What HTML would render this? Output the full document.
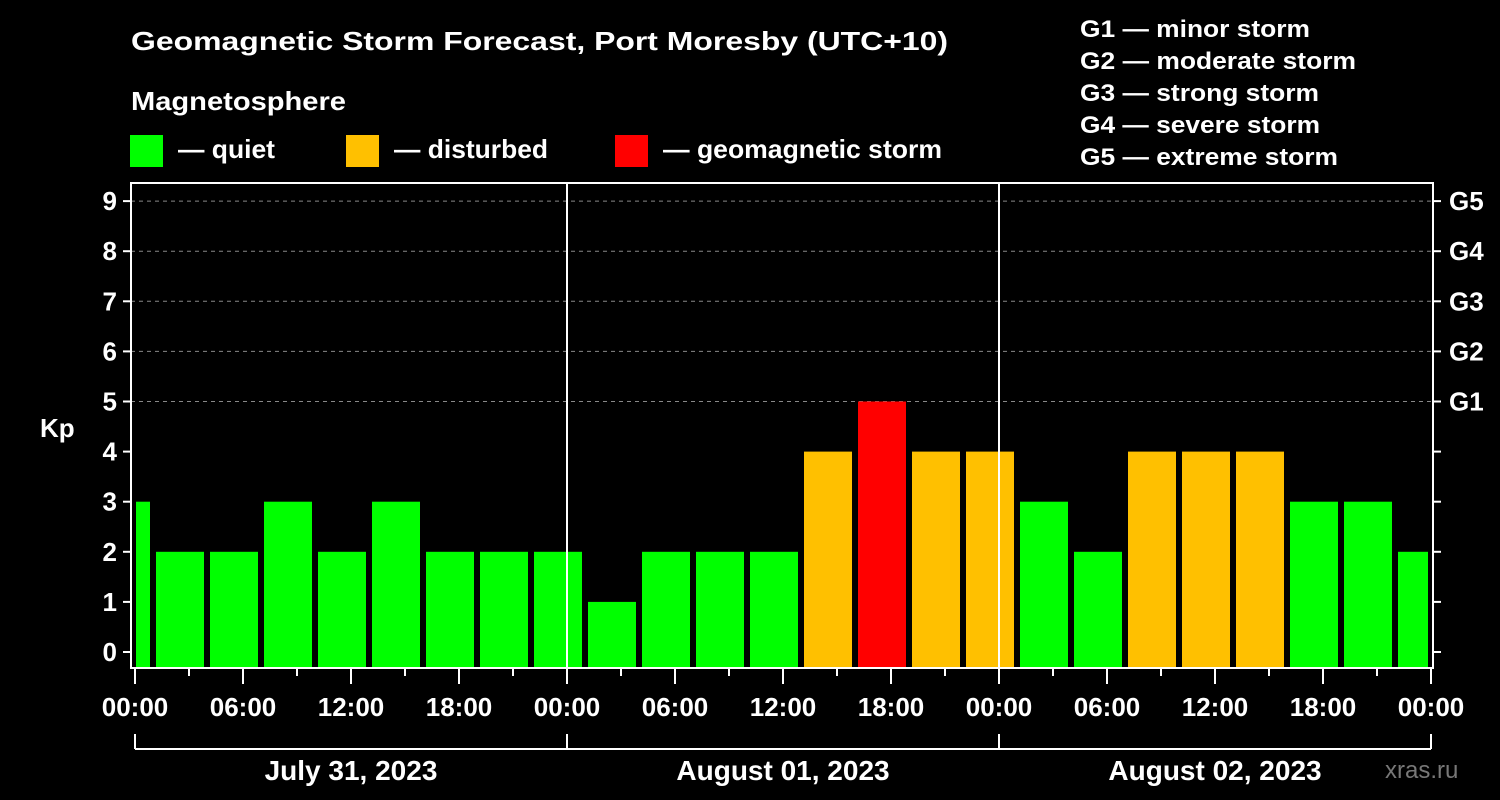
<!DOCTYPE html>
<html><head><meta charset="utf-8"><style>
html,body{margin:0;padding:0;background:#000;}
svg{display:block;font-family:"Liberation Sans",sans-serif;font-weight:bold;}
</style></head><body>
<svg id="chart" width="1500" height="800" viewBox="0 0 1500 800">
<rect x="0" y="0" width="1500" height="800" fill="#000"/>
<text x="131" y="50" font-size="26" fill="#fff" textLength="817" lengthAdjust="spacingAndGlyphs">Geomagnetic Storm Forecast, Port Moresby (UTC+10)</text>
<text x="131" y="110" font-size="26" fill="#fff" textLength="215" lengthAdjust="spacingAndGlyphs">Magnetosphere</text>
<g><rect x="130" y="135" width="33" height="32" fill="#00ff00"/><text x="178" y="158" font-size="26" fill="#fff" textLength="97" lengthAdjust="spacingAndGlyphs">— quiet</text></g>
<g><rect x="346" y="135" width="33" height="32" fill="#ffc000"/><text x="394" y="158" font-size="26" fill="#fff" textLength="154" lengthAdjust="spacingAndGlyphs">— disturbed</text></g>
<g><rect x="615" y="135" width="33" height="32" fill="#ff0000"/><text x="663" y="158" font-size="26" fill="#fff" textLength="279" lengthAdjust="spacingAndGlyphs">— geomagnetic storm</text></g>
<g font-size="24" fill="#fff">
<text x="1080" y="37" textLength="230" lengthAdjust="spacingAndGlyphs">G1 — minor storm</text>
<text x="1080" y="69" textLength="276" lengthAdjust="spacingAndGlyphs">G2 — moderate storm</text>
<text x="1080" y="101" textLength="239" lengthAdjust="spacingAndGlyphs">G3 — strong storm</text>
<text x="1080" y="133" textLength="240" lengthAdjust="spacingAndGlyphs">G4 — severe storm</text>
<text x="1080" y="165" textLength="258" lengthAdjust="spacingAndGlyphs">G5 — extreme storm</text>
</g>
<g id="grid"></g><g id="bars"></g><g id="axes"></g>
<text x="40" y="437" font-size="26" fill="#fff">Kp</text>
<text x="1385" y="778" font-size="24" fill="#777" font-weight="normal">xras.ru</text>
</svg>
<script>
const kpValues=[3,2,2,3,2,3,2,2,2, 1,2,2,2,4,5,4,4, 3,2,4,4,4,3,3,2];
const yTicks=[0,1,2,3,4,5,6,7,8,9];
const gLabels=["G1","G2","G3","G4","G5"];
const gLevels=[5,6,7,8,9];
const xTickLabels=["00:00","06:00","12:00","18:00","00:00","06:00","12:00","18:00","00:00","06:00","12:00","18:00","00:00"];
const dayLabels=["July 31, 2023","August 01, 2023","August 02, 2023"];
const NS="http://www.w3.org/2000/svg";
const X0=135,PXH=18,PL=131,PR=1433,PT=183,PB=668;
const xs=h=>X0+h*PXH;
const ys=k=>652-k*50.1;
function mk(tag,attrs,parent){const e=document.createElementNS(NS,tag);for(const k in attrs)e.setAttribute(k,attrs[k]);parent.appendChild(e);return e;}
const grid=document.getElementById('grid'),bars=document.getElementById('bars'),axes=document.getElementById('axes');
gLevels.forEach((k,i)=>{
 const l=mk('line',{x1:PL,x2:PR,y1:ys(k),y2:ys(k),stroke:'#888','stroke-dasharray':'4,4','stroke-width':1},grid);
 
 
 const t=mk('text',{x:1449,y:ys(k)+9,'font-size':26,fill:'#fff'},axes);t.textContent=gLabels[i];
 
 
});
kpValues.forEach((v,i)=>{
 const c=xs(-0.5+3*i);
 const x1=Math.max(c-24,136),x2=Math.min(c+24,1428);
 const col=v>=5?'#ff0000':(v>=4?'#ffc000':'#00ff00');
 const r=mk('rect',{x:x1,y:ys(v),width:x2-x1,height:PB-ys(v),fill:col},bars);
 
 
});
[1,2].forEach(d=>{const l=mk('line',{x1:xs(24*d),x2:xs(24*d),y1:PT,y2:PB,stroke:'#fff','stroke-width':2},axes);
 
 });
const frame=mk('rect',{x:PL,y:PT,width:PR-PL,height:PB-PT,fill:'none',stroke:'#fff','stroke-width':2},axes);


yTicks.forEach(k=>{
 mk('line',{x1:PL-8,x2:PL,y1:ys(k),y2:ys(k),stroke:'#fff','stroke-width':2},axes);
 mk('line',{x1:PR,x2:PR+8,y1:ys(k),y2:ys(k),stroke:'#fff','stroke-width':2},axes);
 const t=mk('text',{x:PL-14,y:ys(k)+9,'font-size':26,fill:'#fff','text-anchor':'end'},axes);t.textContent=k;
 
 
});
for(let h=0;h<=72;h+=3){
 const major=h%6===0;
 mk('line',{x1:xs(h),x2:xs(h),y1:PB,y2:PB+(major?16:8),stroke:'#fff','stroke-width':2},axes);
}
xTickLabels.forEach((s,i)=>{
 const t=mk('text',{x:xs(6*i),y:716,'font-size':26,fill:'#fff','text-anchor':'middle'},axes);t.textContent=s;
 
 
});
mk('line',{x1:xs(0),x2:xs(72),y1:749,y2:749,stroke:'#fff','stroke-width':2},axes);
for(let d=0;d<=3;d++)mk('line',{x1:xs(24*d),x2:xs(24*d),y1:734,y2:749,stroke:'#fff','stroke-width':2},axes);
dayLabels.forEach((s,i)=>{
 const t=mk('text',{x:xs(24*i+12),y:780,'font-size':28,fill:'#fff','text-anchor':'middle'},axes);t.textContent=s;
 
 
});
</script>
</body></html>
